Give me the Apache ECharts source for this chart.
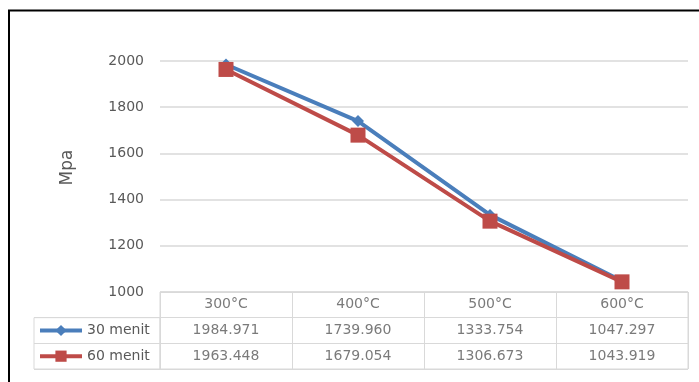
<!DOCTYPE html>
<html><head><meta charset="utf-8">
<script src="https://cdn.jsdelivr.net/npm/echarts@6/dist/echarts.min.js"></script>
<style>html,body{margin:0;padding:0;background:#fff}#c{width:699px;height:382px}</style>
</head><body><div id="c"></div>
<script>
const categories = ['300°C', '400°C', '500°C', '600°C'];
const seriesNames = ['30 menit', '60 menit'];
const values30 = [1984.971, 1739.960, 1333.754, 1047.297];
const values60 = [1963.448, 1679.054, 1306.673, 1043.919];
const yTicks = { min: 1000, max: 2000, interval: 200 };

const FONT = 'DejaVu Sans';
const TXT = '#595959';
const GRID = '#d9d9d9';
const BLUE = '#4A7EBB';
const RED = '#BE4B48';

const tableTop = 292, rowH = 25.67;

const cellData = [];
categories.forEach((c, i) => {
  cellData.push({ value: [i, 0], label: { formatter: c } });
  cellData.push({ value: [i, 1], label: { formatter: values30[i].toFixed(3) } });
  cellData.push({ value: [i, 2], label: { formatter: values60[i].toFixed(3) } });
});

const chart = echarts.init(document.getElementById('c'));
chart.setOption({
  animation: false,
  textStyle: { fontFamily: FONT },
  graphic: [{
    type: 'rect', silent: true, z: 100,
    shape: { x: 9, y: 10.5, width: 720, height: 400 },
    style: { fill: 'none', stroke: '#000', lineWidth: 2 }
  }],
  legend: {
    data: seriesNames,
    orient: 'vertical',
    padding: 0,
    left: 38, top: tableTop + rowH + rowH / 2 - 7,
    itemWidth: 42, itemHeight: 14, itemGap: rowH - 14,
    lineStyle: { width: 4 },
    textStyle: { fontFamily: FONT, fontSize: 14, color: TXT }
  },
  grid: [
    { left: 160, right: 11, top: 61, bottom: 382 - tableTop },
    { left: 160, right: 11, top: tableTop, height: rowH * 3, show: true, borderColor: GRID, borderWidth: 1 },
    { left: 34, width: 126, top: tableTop + rowH, height: rowH * 2, show: true, borderColor: GRID, borderWidth: 1 }
  ],
  xAxis: [
    { gridIndex: 0, type: 'category', data: categories, boundaryGap: true,
      axisLine: { show: false }, axisTick: { show: false }, axisLabel: { show: false } },
    { gridIndex: 1, type: 'category', data: categories, boundaryGap: true,
      axisLine: { show: false }, axisTick: { show: false }, axisLabel: { show: false },
      splitLine: { show: true, lineStyle: { color: GRID, width: 1 } } },
    { gridIndex: 2, type: 'value', show: false }
  ],
  yAxis: [
    { gridIndex: 0, type: 'value', min: yTicks.min, max: yTicks.max, interval: yTicks.interval,
      name: 'Mpa', nameLocation: 'middle', nameGap: 84, nameRotate: 90,
      nameTextStyle: { fontFamily: FONT, fontSize: 17, color: TXT, padding: [0, 0, 0, 18] },
      axisLine: { show: false }, axisTick: { show: false },
      axisLabel: { margin: 16, fontFamily: FONT, fontSize: 14, color: TXT, formatter: v => String(v) },
      splitLine: { lineStyle: { color: GRID, width: 1.5 } } },
    { gridIndex: 1, type: 'category', data: ['h', 'a', 'b'], inverse: true,
      axisLine: { show: false }, axisTick: { show: false }, axisLabel: { show: false },
      splitLine: { show: true, lineStyle: { color: GRID, width: 1 } } },
    { gridIndex: 2, type: 'category', data: ['a', 'b'], inverse: true,
      axisLine: { show: false }, axisTick: { show: false }, axisLabel: { show: false },
      splitLine: { show: true, lineStyle: { color: GRID, width: 1 } } }
  ],
  series: [
    { name: seriesNames[0], type: 'line', xAxisIndex: 0, yAxisIndex: 0, data: values30,
      symbol: 'diamond', symbolSize: 12, showSymbol: true,
      lineStyle: { color: BLUE, width: 4 }, itemStyle: { color: BLUE } },
    { name: seriesNames[1], type: 'line', xAxisIndex: 0, yAxisIndex: 0, data: values60,
      symbol: 'rect', symbolSize: 15, showSymbol: true,
      lineStyle: { color: RED, width: 4 }, itemStyle: { color: RED } },
    { name: 'cells', type: 'scatter', xAxisIndex: 1, yAxisIndex: 1, data: cellData,
      symbolSize: 0, silent: true,
      label: { show: true, position: 'inside', fontFamily: FONT, fontSize: 14, color: TXT } }
  ]
});
</script></body></html>
